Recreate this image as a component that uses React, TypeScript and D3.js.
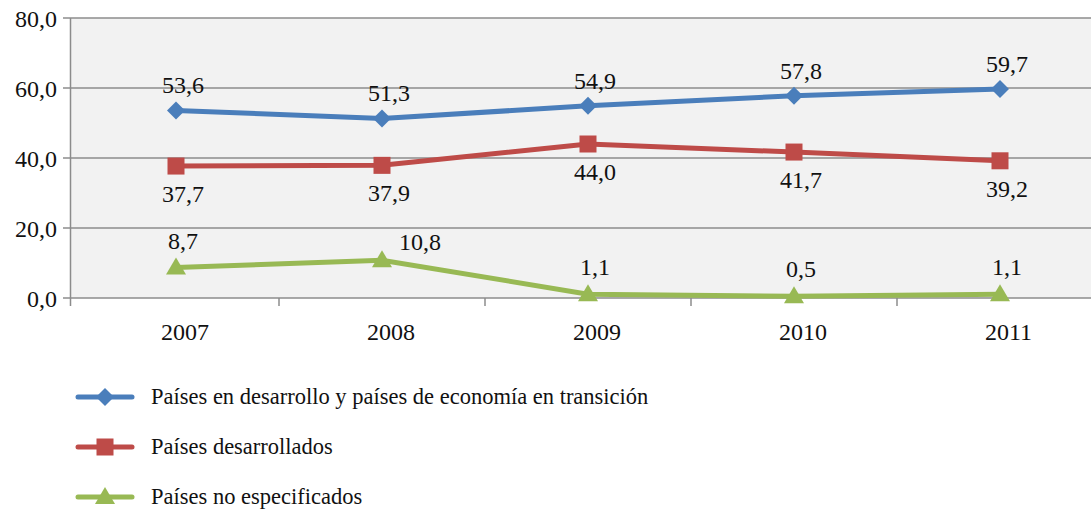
import * as d3 from 'd3';

const years = ['2007', '2008', '2009', '2010', '2011'];
const developing = [53.6, 51.3, 54.9, 57.8, 59.7];
const developed = [37.7, 37.9, 44.0, 41.7, 39.2];
const unspecified = [8.7, 10.8, 1.1, 0.5, 1.1];
const yTicks = [0, 20, 40, 60, 80];
const seriesNames = [
  'Países en desarrollo y países de economía en transición',
  'Países desarrollados',
  'Países no especificados',
];

const W = 1091;
const H = 510;
const font = 'Tinos, Liberation Serif, Times New Roman, serif';
const fmt = (v: number) => v.toFixed(1).replace('.', ',');

const series = [
  { name: seriesNames[0], values: developing, color: '#4a7ebb', marker: 'diamond', labelDy: -17 },
  { name: seriesNames[1], values: developed, color: '#be4b48', marker: 'square', labelDy: 36 },
  { name: seriesNames[2], values: unspecified, color: '#98b954', marker: 'triangle', labelDy: -19 },
];

function Marker({ type, x, y, color }: { type: string; x: number; y: number; color: string }) {
  if (type === 'diamond') {
    const s = 9;
    return <path d={`M${x - s},${y} L${x},${y - s} L${x + s},${y} L${x},${y + s} Z`} fill={color} />;
  }
  if (type === 'square') {
    return <rect x={x - 8.5} y={y - 8.5} width={17} height={17} fill={color} />;
  }
  const s = 10;
  return <path d={`M${x},${y - s} L${x + s},${y + 7} L${x - s},${y + 7} Z`} fill={color} />;
}

export default function App() {
  const x = d3.scaleBand<string>().domain(years).range([73, 1103]);
  const y = d3.scaleLinear().domain([0, 80]).range([298, 18]);
  const cx = (d: string) => (x(d) ?? 0) + x.bandwidth() / 2;
  const line = d3
    .line<number>()
    .x((_, i) => cx(years[i]))
    .y((d) => y(d));

  return (
    <svg width={W} height={H} style={{ position: 'absolute', left: 0, top: 0 }}>
      <rect x={71} y={y(80)} width={W - 71} height={y(0) - y(80)} fill="#f2f2f2" />
      {yTicks.map((t) => (
        <g key={t}>
          <line x1={63} x2={W} y1={y(t)} y2={y(t)} stroke="#8c8c8c" strokeWidth={1.5} />
          <text x={57} y={y(t) + 9} textAnchor="end" fontSize={24} fontFamily={font} fill="#111">
            {fmt(t)}
          </text>
        </g>
      ))}
      <line x1={70.5} x2={70.5} y1={y(80)} y2={y(0) + 8} stroke="#8c8c8c" strokeWidth={1.5} />
      {years.slice(1).map((yr) => (
        <line key={yr} x1={x(yr) ?? 0} x2={x(yr) ?? 0} y1={y(0)} y2={y(0) + 8} stroke="#8c8c8c" strokeWidth={1.5} />
      ))}
      {years.map((yr) => (
        <text key={yr} x={cx(yr) - 15} y={340} fontSize={24} fontFamily={font} fill="#111">
          {yr}
        </text>
      ))}
      {series.map((s) => (
        <g key={s.name}>
          <path d={line(s.values) ?? ''} fill="none" stroke={s.color} strokeWidth={5} />
          {s.values.map((v, i) => (
            <Marker key={i} type={s.marker} x={cx(years[i])} y={y(v)} color={s.color} />
          ))}
          {s.values.map((v, i) => {
            const shifted = s.marker === 'triangle' && i === 1;
            return (
              <text
                key={'l' + i}
                x={cx(years[i]) + (shifted ? 38 : 7)}
                y={y(v) + (shifted ? -10 : s.labelDy)}
                textAnchor="middle"
                fontSize={24}
                fontFamily={font}
                fill="#111"
              >
                {fmt(v)}
              </text>
            );
          })}
        </g>
      ))}
      {series.map((s, i) => {
        const ly = 397 + i * 50;
        return (
          <g key={'leg' + i}>
            <line x1={78} x2={132} y1={ly} y2={ly} stroke={s.color} strokeWidth={5} strokeLinecap="round" />
            <Marker type={s.marker} x={105} y={ly} color={s.color} />
            <text x={151} y={ly + 7} fontSize={22.5} fontFamily={font} fill="#111">
              {s.name}
            </text>
          </g>
        );
      })}
    </svg>
  );
}
